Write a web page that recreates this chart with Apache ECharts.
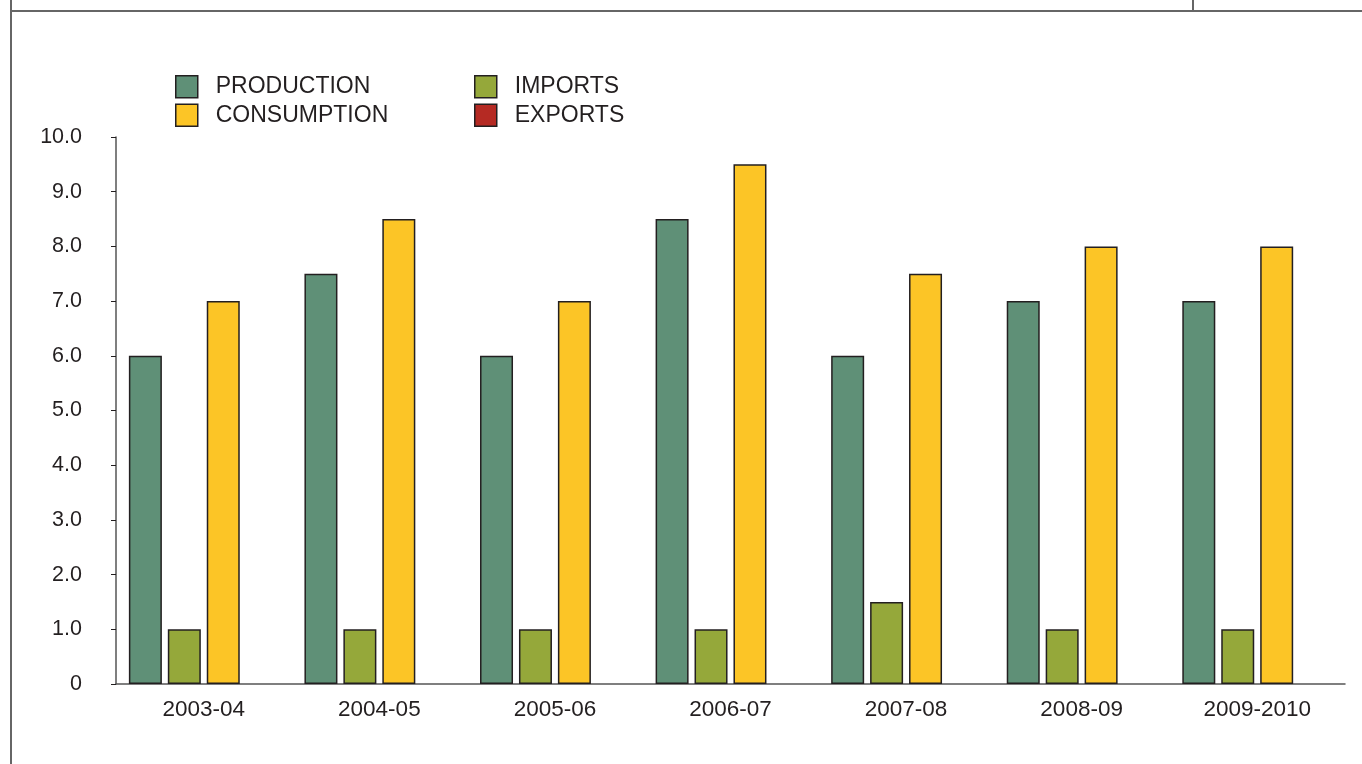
<!DOCTYPE html>
<html>
<head>
<meta charset="utf-8">
<style>
  html, body { margin: 0; padding: 0; background: #fff; }
  #chart { width: 1362px; height: 764px; }
</style>
<script src="https://cdn.jsdelivr.net/npm/echarts@6/dist/echarts.min.js"></script>
</head>
<body>
<div id="chart"></div>
<script>
// data
const years = ['2003-04', '2004-05', '2005-06', '2006-07', '2007-08', '2008-09', '2009-2010']
const production = [6, 7.5, 6, 8.5, 6, 7, 7]
const imports = [1, 1, 1, 1, 1.5, 1, 1]
const consumption = [7, 8.5, 7, 9.5, 7.5, 8, 8]
const exports_ = [0, 0, 0, 0, 0, 0, 0]

const colors = {
  PRODUCTION: '#5f9077',
  IMPORTS: '#95a83a',
  CONSUMPTION: '#fcc526',
  EXPORTS: '#b52a23',
}
const ink = '#231f20'
const font = '"Liberation Sans", Arial, Helvetica, sans-serif'

const chart = echarts.init(document.getElementById('chart'))

function bar(name, data, border) {
  return {
    name: name,
    type: 'bar',
    data: data,
    barWidth: 33,
    barGap: '18%',
    itemStyle: {
      color: colors[name],
      borderColor: ink,
      borderWidth: border,
    },
    animation: false,
  }
}

function legendItem(name) {
  return { name: name, icon: 'rect', itemStyle: { color: colors[name], borderColor: ink, borderWidth: 1.5 } }
}

const legendBase = {
  orient: 'vertical',
  itemWidth: 22,
  itemHeight: 22,
  itemGap: 5,
  selectedMode: false,
  textStyle: {
    fontFamily: font,
    fontSize: 23,
    color: ink,
    padding: [0, 0, 0, 13],
  },
}

chart.setOption({
  textStyle: { fontFamily: font },
  graphic: [
    { type: 'line', shape: { x1: 11, y1: 0, x2: 11, y2: 764 }, style: { stroke: '#666', lineWidth: 2 } },
    { type: 'line', shape: { x1: 11, y1: 11, x2: 1362, y2: 11 }, style: { stroke: '#666', lineWidth: 2 } },
    { type: 'line', shape: { x1: 1193, y1: 0, x2: 1193, y2: 11 }, style: { stroke: '#666', lineWidth: 2 } },
  ],
  legend: [
    Object.assign({}, legendBase, {
      left: 170,
      top: 70,
      data: [legendItem('PRODUCTION'), legendItem('CONSUMPTION')],
    }),
    Object.assign({}, legendBase, {
      left: 469,
      top: 70,
      data: [legendItem('IMPORTS'), legendItem('EXPORTS')],
    }),
  ],
  grid: {
    left: 116,
    right: 17,
    top: 137,
    bottom: 80,
  },
  xAxis: {
    type: 'category',
    data: years,
    axisTick: { show: false },
    axisLine: { lineStyle: { color: '#555', width: 1.5 } },
    axisLabel: {
      margin: 14,
      fontSize: 22.5,
      color: ink,
      fontFamily: font,
    },
  },
  yAxis: {
    type: 'value',
    min: 0,
    max: 10,
    interval: 1,
    splitLine: { show: false },
    axisLine: { show: true, lineStyle: { color: '#555', width: 1.5 } },
    axisTick: { show: true, length: 5, lineStyle: { color: ink } },
    axisLabel: {
      margin: 34,
      fontSize: 21.5,
      color: ink,
      fontFamily: font,
      formatter: function (v) { return v === 0 ? '0' : v.toFixed(1) },
    },
  },
  series: [
    bar('PRODUCTION', production, 1.5),
    bar('IMPORTS', imports, 1.5),
    bar('CONSUMPTION', consumption, 1.5),
    bar('EXPORTS', exports_, 0),
  ],
})
</script>
</body>
</html>
